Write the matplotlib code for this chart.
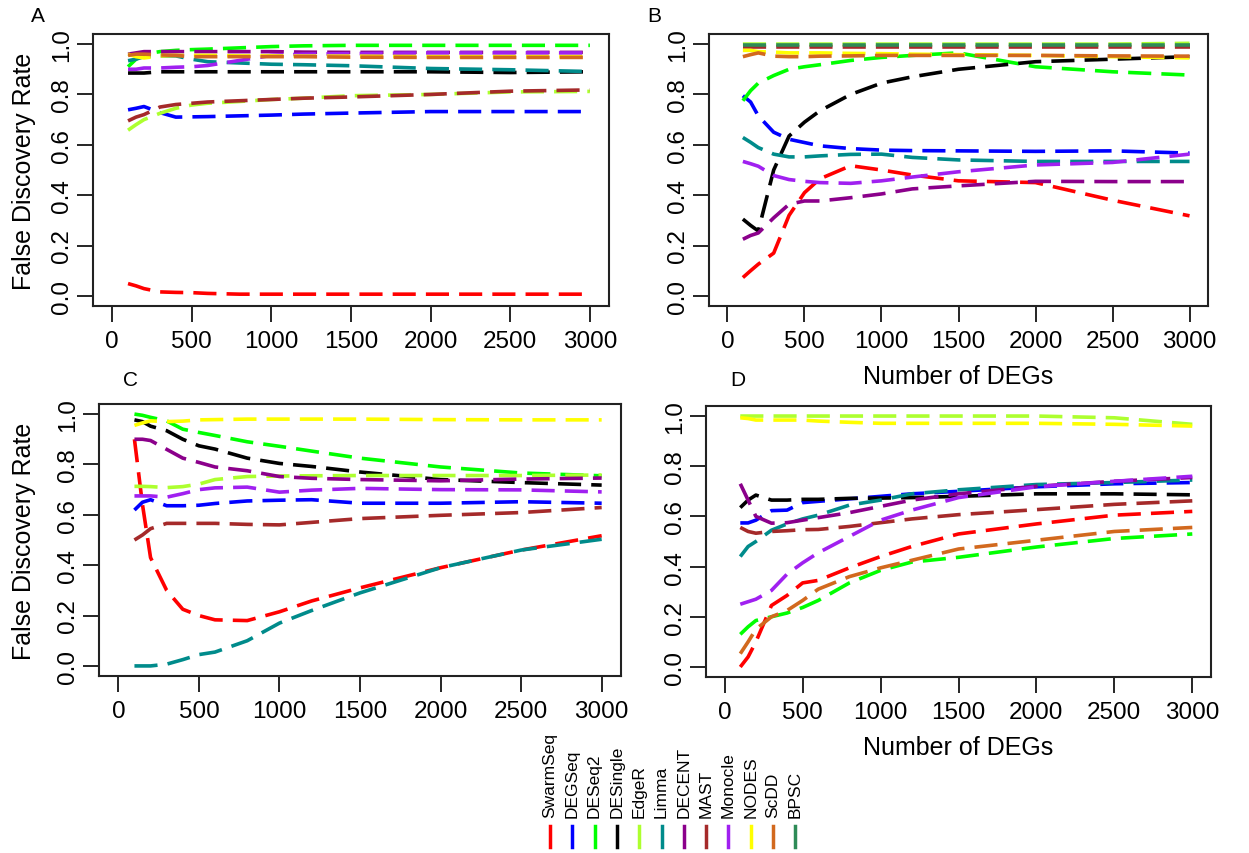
import matplotlib
matplotlib.use('Agg')
import matplotlib.pyplot as plt
from matplotlib.lines import Line2D

plt.rcParams['font.family'] = ['Liberation Sans', 'DejaVu Sans']

n_degs = [100, 150, 200, 300, 400, 500, 600, 800, 1000, 1200, 1500, 2000, 2500, 3000]

methods = ['SwarmSeq', 'DEGSeq', 'DESeq2', 'DESingle', 'EdgeR', 'Limma',
           'DECENT', 'MAST', 'Monocle', 'NODES', 'ScDD', 'BPSC']
colors = ['#FF0000', '#0000FF', '#00FF00', '#000000', '#ADFF2F', '#008B8B',
          '#8B008B', '#A52A2A', '#A020F0', '#FFFF00', '#D2691E', '#2E8B57']

# panel A
fdr_a = {
    'SwarmSeq': [0.049, 0.04, 0.029, 0.016, 0.014, 0.013, 0.01, 0.007, 0.007, 0.007, 0.007, 0.007, 0.007, 0.007],
    'DEGSeq':   [0.739, 0.745, 0.752, 0.728, 0.71, 0.711, 0.712, 0.715, 0.718, 0.722, 0.726, 0.732, 0.732, 0.732],
    'DESeq2':   [0.91, 0.94, 0.96, 0.97, 0.975, 0.978, 0.98, 0.985, 0.99, 0.993, 0.995, 0.995, 0.995, 0.995],
    'DESingle': [0.885, 0.885, 0.885, 0.89, 0.89, 0.89, 0.89, 0.89, 0.89, 0.89, 0.89, 0.89, 0.887, 0.89],
    'EdgeR':    [0.658, 0.68, 0.70, 0.725, 0.745, 0.758, 0.765, 0.772, 0.78, 0.785, 0.795, 0.80, 0.81, 0.812],
    'Limma':    [0.934, 0.94, 0.95, 0.953, 0.953, 0.94, 0.93, 0.925, 0.92, 0.918, 0.914, 0.903, 0.898, 0.891],
    'DECENT':   [0.96, 0.965, 0.97, 0.97, 0.97, 0.97, 0.97, 0.97, 0.97, 0.968, 0.967, 0.967, 0.967, 0.967],
    'MAST':     [0.695, 0.71, 0.72, 0.75, 0.76, 0.765, 0.77, 0.775, 0.78, 0.785, 0.79, 0.80, 0.813, 0.818],
    'Monocle':  [0.9, 0.9, 0.905, 0.905, 0.908, 0.91, 0.915, 0.935, 0.955, 0.96, 0.962, 0.965, 0.965, 0.965],
    'NODES':    [0.96, 0.95, 0.945, 0.953, 0.955, 0.955, 0.955, 0.953, 0.953, 0.952, 0.952, 0.95, 0.95, 0.95],
    'ScDD':     [0.955, 0.96, 0.96, 0.957, 0.955, 0.95, 0.95, 0.95, 0.95, 0.95, 0.948, 0.947, 0.947, 0.947],
}

# panel B
fdr_b = {
    'SwarmSeq': [0.073, 0.10, 0.126, 0.17, 0.32, 0.41, 0.465, 0.517, 0.5, 0.48, 0.457, 0.45, 0.38, 0.318],
    'DEGSeq':   [0.795, 0.77, 0.715, 0.65, 0.622, 0.609, 0.596, 0.585, 0.579, 0.577, 0.576, 0.574, 0.576, 0.567],
    'DESeq2':   [0.775, 0.815, 0.845, 0.875, 0.9, 0.91, 0.918, 0.935, 0.947, 0.955, 0.965, 0.91, 0.89, 0.877],
    'DESingle': [0.305, 0.28, 0.258, 0.5, 0.635, 0.69, 0.735, 0.8, 0.845, 0.87, 0.9, 0.93, 0.94, 0.95],
    'EdgeR':    [1.0, 1.0, 1.0, 1.0, 1.0, 1.0, 1.0, 1.0, 1.0, 1.0, 1.0, 1.0, 1.0, 1.003],
    'Limma':    [0.629, 0.61, 0.589, 0.563, 0.552, 0.552, 0.556, 0.562, 0.563, 0.55, 0.54, 0.534, 0.534, 0.534],
    'DECENT':   [0.225, 0.24, 0.25, 0.31, 0.364, 0.377, 0.377, 0.39, 0.405, 0.425, 0.437, 0.455, 0.454, 0.454],
    'MAST':     [0.987, 0.987, 0.987, 0.987, 0.987, 0.987, 0.987, 0.987, 0.987, 0.987, 0.987, 0.987, 0.987, 0.987],
    'Monocle':  [0.534, 0.525, 0.515, 0.478, 0.462, 0.455, 0.45, 0.447, 0.457, 0.472, 0.493, 0.52, 0.53, 0.563],
    'NODES':    [0.975, 0.975, 0.97, 0.968, 0.965, 0.965, 0.965, 0.963, 0.962, 0.96, 0.958, 0.955, 0.95, 0.945],
    'ScDD':     [0.95, 0.958, 0.965, 0.952, 0.95, 0.95, 0.952, 0.953, 0.955, 0.955, 0.955, 0.955, 0.953, 0.952],
    'BPSC':     [0.997, 0.997, 0.997, 0.997, 0.997, 0.997, 0.997, 0.997, 0.997, 0.997, 0.997, 0.997, 0.997, 0.997],
}

# panel C
fdr_c = {
    'SwarmSeq': [0.9, 0.64, 0.43, 0.30, 0.225, 0.20, 0.183, 0.18, 0.215, 0.258, 0.31, 0.39, 0.46, 0.517],
    'DEGSeq':   [0.619, 0.65, 0.66, 0.636, 0.636, 0.638, 0.645, 0.655, 0.658, 0.66, 0.646, 0.646, 0.652, 0.646],
    'DESeq2':   [1.0, 0.995, 0.987, 0.973, 0.94, 0.927, 0.915, 0.89, 0.872, 0.853, 0.825, 0.79, 0.766, 0.755],
    'DESingle': [0.977, 0.97, 0.952, 0.934, 0.9, 0.874, 0.861, 0.825, 0.804, 0.792, 0.77, 0.74, 0.728, 0.718],
    'EdgeR':    [0.713, 0.713, 0.712, 0.708, 0.712, 0.722, 0.74, 0.752, 0.754, 0.755, 0.756, 0.756, 0.756, 0.758],
    'Limma':    [0.0, 0.0, 0.0, 0.007, 0.025, 0.045, 0.055, 0.1, 0.17, 0.22, 0.29, 0.39, 0.46, 0.503],
    'DECENT':   [0.9, 0.9, 0.895, 0.86, 0.825, 0.808, 0.79, 0.775, 0.752, 0.745, 0.74, 0.735, 0.742, 0.746],
    'MAST':     [0.5, 0.52, 0.545, 0.566, 0.566, 0.566, 0.566, 0.562, 0.56, 0.57, 0.585, 0.598, 0.609, 0.629],
    'Monocle':  [0.675, 0.675, 0.675, 0.67, 0.684, 0.7, 0.707, 0.71, 0.69, 0.698, 0.705, 0.7, 0.699, 0.691],
    'NODES':    [0.955, 0.965, 0.973, 0.97, 0.972, 0.977, 0.978, 0.98, 0.98, 0.98, 0.98, 0.978, 0.977, 0.977],
}

# panel D
fdr_d = {
    'SwarmSeq': [0.0, 0.04, 0.1, 0.245, 0.285, 0.335, 0.345, 0.395, 0.44, 0.48, 0.53, 0.57, 0.605, 0.62],
    'DEGSeq':   [0.574, 0.574, 0.585, 0.623, 0.625, 0.655, 0.66, 0.67, 0.68, 0.69, 0.7, 0.718, 0.73, 0.735],
    'DESeq2':   [0.13, 0.16, 0.185, 0.2, 0.215, 0.237, 0.265, 0.335, 0.385, 0.418, 0.437, 0.478, 0.512, 0.53],
    'DESingle': [0.635, 0.665, 0.685, 0.665, 0.665, 0.668, 0.668, 0.672, 0.673, 0.675, 0.68, 0.69, 0.69, 0.686],
    'EdgeR':    [1.0, 1.0, 1.0, 1.0, 1.0, 1.0, 1.0, 1.0, 1.0, 1.0, 1.0, 1.0, 0.993, 0.967],
    'Limma':    [0.44, 0.48, 0.5, 0.545, 0.57, 0.59, 0.605, 0.645, 0.665, 0.69, 0.706, 0.727, 0.735, 0.745],
    'DECENT':   [0.73, 0.665, 0.6, 0.573, 0.575, 0.585, 0.595, 0.615, 0.64, 0.665, 0.69, 0.72, 0.74, 0.755],
    'MAST':     [0.556, 0.54, 0.533, 0.54, 0.543, 0.547, 0.548, 0.56, 0.575, 0.59, 0.607, 0.627, 0.648, 0.662],
    'Monocle':  [0.25, 0.26, 0.27, 0.305, 0.37, 0.415, 0.455, 0.52, 0.585, 0.625, 0.675, 0.718, 0.74, 0.76],
    'NODES':    [0.993, 0.99, 0.984, 0.984, 0.984, 0.984, 0.98, 0.975, 0.971, 0.971, 0.971, 0.971, 0.967, 0.96],
    'ScDD':     [0.053, 0.1, 0.15, 0.2, 0.225, 0.265, 0.31, 0.36, 0.395, 0.425, 0.47, 0.505, 0.54, 0.556],
}

W, H = 1249, 854
fig = plt.figure(figsize=(W / 100, H / 100), dpi=100)

def px_axes(left, top, right, bottom):
    return fig.add_axes([left / W, 1 - bottom / H, (right - left) / W, (bottom - top) / H])

panels = [
    (fdr_a, (93, 35, 609, 307), 'A', (38, 17), True, False),
    (fdr_b, (709, 35, 1208, 307), 'B', (654, 17), False, True),
    (fdr_c, (99, 405, 621, 677), 'C', (131, 380), True, False),
    (fdr_d, (706, 407, 1211, 678), 'D', (738, 380), False, True),
]

for data, box, letter, lpos, ylab, xlab in panels:
    ax = px_axes(*box)
    for m, c in zip(methods, colors):
        if m in data:
            ax.plot(n_degs, data[m], color=c, lw=2.6, dashes=(6.4, 2.8))
    ax.set_xlim(-120, 3120)
    ax.set_ylim(-0.04, 1.04)
    ax.set_xticks([0, 500, 1000, 1500, 2000, 2500, 3000])
    ax.set_yticks([0.0, 0.2, 0.4, 0.6, 0.8, 1.0])
    ax.set_yticklabels(['0.0', '0.2', '0.4', '0.6', '0.8', '1.0'])
    ax.tick_params(axis='both', labelsize=17.5, length=11.5, width=1.2, direction='out')
    ax.tick_params(axis='x', pad=6)
    ax.tick_params(axis='y', pad=3, labelrotation=90)
    for lbl in ax.get_yticklabels():
        lbl.set_va('center')
    for s in ax.spines.values():
        s.set_linewidth(1.5)
        s.set_color('#222222')
    fig.text(lpos[0] / W, 1 - lpos[1] / H, letter, fontsize=15, ha='center', va='center')
    if ylab:
        fig.text(24 / W, 1 - (box[1] + box[3]) / 2 / H, 'False Discovery Rate',
                 fontsize=18, rotation=90, ha='center', va='center')
    if xlab:
        fig.text((box[0] + box[2]) / 2 / W, 1 - (box[3] + 70) / H, 'Number of DEGs',
                 fontsize=18, ha='center', va='center')

# legend: vertical labels with short coloured bars underneath
for i, (m, c) in enumerate(zip(methods, colors)):
    x = (550 + i * 22.3) / W
    fig.text(x, 1 - 818 / H, m, fontsize=12.5, rotation=90, ha='center', va='bottom')
    fig.add_artist(Line2D([x, x], [1 - 827 / H, 1 - 848 / H], color=c, lw=2.5,
                          transform=fig.transFigure))

fig.savefig('out.png', dpi=100)
